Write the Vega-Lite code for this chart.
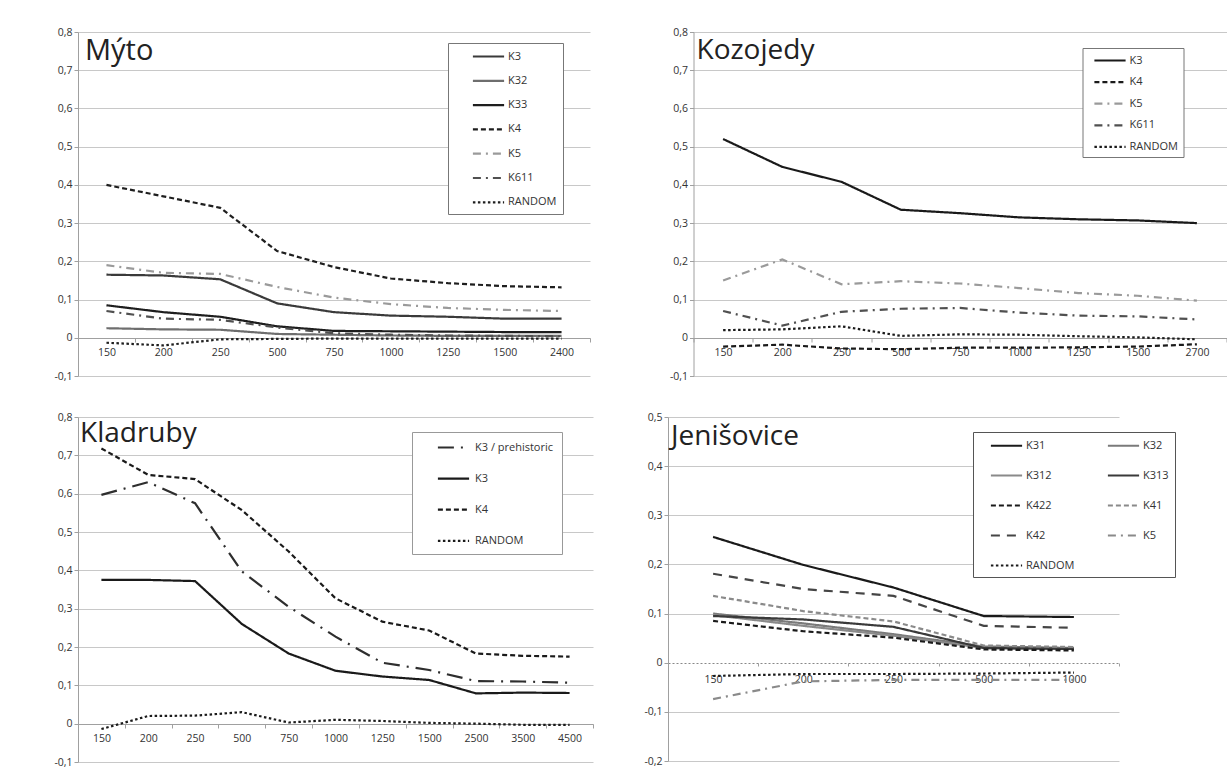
{
  "$schema": "https://vega.github.io/schema/vega-lite/v6.json",
  "background": "white",
  "padding": {"left": 53, "top": 27, "right": 0, "bottom": 0},
  "datasets": {
    "myto": [
      {"s":150,"k":"K3","v":0.165},{"s":200,"k":"K3","v":0.163},{"s":250,"k":"K3","v":0.153},{"s":500,"k":"K3","v":0.09},{"s":750,"k":"K3","v":0.067},{"s":1000,"k":"K3","v":0.058},{"s":1250,"k":"K3","v":0.055},{"s":1500,"k":"K3","v":0.05},{"s":2400,"k":"K3","v":0.05},
      {"s":150,"k":"K32","v":0.025},{"s":200,"k":"K32","v":0.022},{"s":250,"k":"K32","v":0.021},{"s":500,"k":"K32","v":0.01},{"s":750,"k":"K32","v":0.008},{"s":1000,"k":"K32","v":0.006},{"s":1250,"k":"K32","v":0.005},{"s":1500,"k":"K32","v":0.005},{"s":2400,"k":"K32","v":0.005},
      {"s":150,"k":"K33","v":0.085},{"s":200,"k":"K33","v":0.067},{"s":250,"k":"K33","v":0.055},{"s":500,"k":"K33","v":0.03},{"s":750,"k":"K33","v":0.018},{"s":1000,"k":"K33","v":0.017},{"s":1250,"k":"K33","v":0.016},{"s":1500,"k":"K33","v":0.015},{"s":2400,"k":"K33","v":0.015},
      {"s":150,"k":"K4","v":0.4},{"s":200,"k":"K4","v":0.37},{"s":250,"k":"K4","v":0.34},{"s":500,"k":"K4","v":0.227},{"s":750,"k":"K4","v":0.185},{"s":1000,"k":"K4","v":0.155},{"s":1250,"k":"K4","v":0.143},{"s":1500,"k":"K4","v":0.135},{"s":2400,"k":"K4","v":0.132},
      {"s":150,"k":"K5","v":0.19},{"s":200,"k":"K5","v":0.17},{"s":250,"k":"K5","v":0.167},{"s":500,"k":"K5","v":0.133},{"s":750,"k":"K5","v":0.105},{"s":1000,"k":"K5","v":0.088},{"s":1250,"k":"K5","v":0.078},{"s":1500,"k":"K5","v":0.073},{"s":2400,"k":"K5","v":0.07},
      {"s":150,"k":"K611","v":0.07},{"s":200,"k":"K611","v":0.05},{"s":250,"k":"K611","v":0.047},{"s":500,"k":"K611","v":0.027},{"s":750,"k":"K611","v":0.012},{"s":1000,"k":"K611","v":0.008},{"s":1250,"k":"K611","v":0.006},{"s":1500,"k":"K611","v":0.005},{"s":2400,"k":"K611","v":0.004},
      {"s":150,"k":"RANDOM","v":-0.013},{"s":200,"k":"RANDOM","v":-0.02},{"s":250,"k":"RANDOM","v":-0.004},{"s":500,"k":"RANDOM","v":-0.003},{"s":750,"k":"RANDOM","v":-0.002},{"s":1000,"k":"RANDOM","v":-0.002},{"s":1250,"k":"RANDOM","v":-0.002},{"s":1500,"k":"RANDOM","v":-0.002},{"s":2400,"k":"RANDOM","v":-0.002}
    ],
    "kozojedy": [
      {"s":150,"k":"K3","v":0.52},{"s":200,"k":"K3","v":0.447},{"s":250,"k":"K3","v":0.408},{"s":500,"k":"K3","v":0.335},{"s":750,"k":"K3","v":0.326},{"s":1000,"k":"K3","v":0.315},{"s":1250,"k":"K3","v":0.31},{"s":1500,"k":"K3","v":0.307},{"s":2700,"k":"K3","v":0.3},
      {"s":150,"k":"K4","v":-0.023},{"s":200,"k":"K4","v":-0.018},{"s":250,"k":"K4","v":-0.028},{"s":500,"k":"K4","v":-0.03},{"s":750,"k":"K4","v":-0.026},{"s":1000,"k":"K4","v":-0.026},{"s":1250,"k":"K4","v":-0.025},{"s":1500,"k":"K4","v":-0.023},{"s":2700,"k":"K4","v":-0.017},
      {"s":150,"k":"K5","v":0.15},{"s":200,"k":"K5","v":0.205},{"s":250,"k":"K5","v":0.14},{"s":500,"k":"K5","v":0.148},{"s":750,"k":"K5","v":0.142},{"s":1000,"k":"K5","v":0.13},{"s":1250,"k":"K5","v":0.117},{"s":1500,"k":"K5","v":0.11},{"s":2700,"k":"K5","v":0.097},
      {"s":150,"k":"K611","v":0.07},{"s":200,"k":"K611","v":0.032},{"s":250,"k":"K611","v":0.068},{"s":500,"k":"K611","v":0.076},{"s":750,"k":"K611","v":0.078},{"s":1000,"k":"K611","v":0.066},{"s":1250,"k":"K611","v":0.058},{"s":1500,"k":"K611","v":0.056},{"s":2700,"k":"K611","v":0.048},
      {"s":150,"k":"RANDOM","v":0.02},{"s":200,"k":"RANDOM","v":0.022},{"s":250,"k":"RANDOM","v":0.03},{"s":500,"k":"RANDOM","v":0.005},{"s":750,"k":"RANDOM","v":0.009},{"s":1000,"k":"RANDOM","v":0.008},{"s":1250,"k":"RANDOM","v":0.004},{"s":1500,"k":"RANDOM","v":0.001},{"s":2700,"k":"RANDOM","v":-0.004}
    ],
    "kladruby": [
      {"s":150,"k":"K3 / prehistoric","v":0.597},{"s":200,"k":"K3 / prehistoric","v":0.63},{"s":250,"k":"K3 / prehistoric","v":0.575},{"s":500,"k":"K3 / prehistoric","v":0.397},{"s":750,"k":"K3 / prehistoric","v":0.305},{"s":1000,"k":"K3 / prehistoric","v":0.227},{"s":1250,"k":"K3 / prehistoric","v":0.159},{"s":1500,"k":"K3 / prehistoric","v":0.14},{"s":2500,"k":"K3 / prehistoric","v":0.111},{"s":3500,"k":"K3 / prehistoric","v":0.11},{"s":4500,"k":"K3 / prehistoric","v":0.107},
      {"s":150,"k":"K3","v":0.375},{"s":200,"k":"K3","v":0.375},{"s":250,"k":"K3","v":0.372},{"s":500,"k":"K3","v":0.26},{"s":750,"k":"K3","v":0.183},{"s":1000,"k":"K3","v":0.138},{"s":1250,"k":"K3","v":0.123},{"s":1500,"k":"K3","v":0.114},{"s":2500,"k":"K3","v":0.079},{"s":3500,"k":"K3","v":0.081},{"s":4500,"k":"K3","v":0.08},
      {"s":150,"k":"K4","v":0.718},{"s":200,"k":"K4","v":0.649},{"s":250,"k":"K4","v":0.638},{"s":500,"k":"K4","v":0.557},{"s":750,"k":"K4","v":0.449},{"s":1000,"k":"K4","v":0.327},{"s":1250,"k":"K4","v":0.266},{"s":1500,"k":"K4","v":0.243},{"s":2500,"k":"K4","v":0.183},{"s":3500,"k":"K4","v":0.177},{"s":4500,"k":"K4","v":0.175},
      {"s":150,"k":"RANDOM","v":-0.014},{"s":200,"k":"RANDOM","v":0.02},{"s":250,"k":"RANDOM","v":0.021},{"s":500,"k":"RANDOM","v":0.03},{"s":750,"k":"RANDOM","v":0.003},{"s":1000,"k":"RANDOM","v":0.01},{"s":1250,"k":"RANDOM","v":0.007},{"s":1500,"k":"RANDOM","v":0.002},{"s":2500,"k":"RANDOM","v":0.0},{"s":3500,"k":"RANDOM","v":-0.003},{"s":4500,"k":"RANDOM","v":-0.003}
    ],
    "jenisovice": [
      {"s":150,"k":"K31","v":0.256},{"s":200,"k":"K31","v":0.199},{"s":250,"k":"K31","v":0.153},{"s":500,"k":"K31","v":0.095},{"s":1000,"k":"K31","v":0.093},
      {"s":150,"k":"K32","v":0.1},{"s":200,"k":"K32","v":0.08},{"s":250,"k":"K32","v":0.058},{"s":500,"k":"K32","v":0.033},{"s":1000,"k":"K32","v":0.03},
      {"s":150,"k":"K312","v":0.097},{"s":200,"k":"K312","v":0.075},{"s":250,"k":"K312","v":0.055},{"s":500,"k":"K312","v":0.03},{"s":1000,"k":"K312","v":0.028},
      {"s":150,"k":"K313","v":0.095},{"s":200,"k":"K313","v":0.088},{"s":250,"k":"K313","v":0.073},{"s":500,"k":"K313","v":0.03},{"s":1000,"k":"K313","v":0.028},
      {"s":150,"k":"K422","v":0.085},{"s":200,"k":"K422","v":0.064},{"s":250,"k":"K422","v":0.051},{"s":500,"k":"K422","v":0.027},{"s":1000,"k":"K422","v":0.025},
      {"s":150,"k":"K41","v":0.136},{"s":200,"k":"K41","v":0.105},{"s":250,"k":"K41","v":0.084},{"s":500,"k":"K41","v":0.035},{"s":1000,"k":"K41","v":0.032},
      {"s":150,"k":"K42","v":0.181},{"s":200,"k":"K42","v":0.15},{"s":250,"k":"K42","v":0.136},{"s":500,"k":"K42","v":0.075},{"s":1000,"k":"K42","v":0.071},
      {"s":150,"k":"K5","v":-0.074},{"s":200,"k":"K5","v":-0.038},{"s":250,"k":"K5","v":-0.035},{"s":500,"k":"K5","v":-0.035},{"s":1000,"k":"K5","v":-0.035},
      {"s":150,"k":"RANDOM","v":-0.027},{"s":200,"k":"RANDOM","v":-0.023},{"s":250,"k":"RANDOM","v":-0.023},{"s":500,"k":"RANDOM","v":-0.022},{"s":1000,"k":"RANDOM","v":-0.02}
    ]
  },
  "spacing": 30,
  "resolve": {"scale": {"color": "independent", "strokeDash": "independent", "x": "independent", "y": "independent"}, "legend": {"color": "independent", "strokeDash": "independent"}},
  "vconcat": [
    {
      "spacing": 77.5,
      "resolve": {"scale": {"color": "independent", "strokeDash": "independent", "x": "independent", "y": "independent"}, "legend": {"color": "independent", "strokeDash": "independent"}},
      "hconcat": [
        {
          "width": 512, "height": 344,
          "layer": [
            {
              "data": {"name": "myto"},
              "mark": {"type": "line", "strokeWidth": 2.2},
              "encoding": {
                "x": {"field": "s", "type": "ordinal", "bandPosition": 0.5, "scale": {"type": "band", "paddingInner": 0, "paddingOuter": 0},
                      "axis": {"title": null, "labelAngle": 0, "tickBand": "extent", "offset": -38, "tickSize": 4, "labelPadding": 5, "grid": false}},
                "y": {"field": "v", "type": "quantitative", "scale": {"domain": [-0.1, 0.8], "nice": false, "zero": false},
                      "axis": {"title": null, "values": [-0.1,0,0.1,0.2,0.3,0.4,0.5,0.6,0.7,0.8], "tickCount": 20, "labelExpr": "replace(replace(format(datum.value, '.1~f'), '.', ','), '\u2212', '-')", "tickSize": 4, "grid": true, "labelOverlap": false, "labelFlush": false}},
                "color": {"field": "k", "type": "nominal", "scale": {"domain": ["K3","K32","K33","K4","K5","K611","RANDOM"], "range": ["#3a3a3a","#6e6e6e","#1e1e1e","#1e1e1e","#9a9a9a","#505050","#1e1e1e"]},
                          "legend": {"title": null, "orient": "none", "legendX": 370, "legendY": 11, "symbolType": "M-2.6,0L2.6,0", "symbolSize": 144, "symbolStrokeWidth": 2.2, "symbolOffset": 27, "labelOffset": 12, "labelFontSize": 11, "rowPadding": 11.3, "padding": 6, "strokeColor": "#777", "fillColor": "white"}},
                "strokeDash": {"field": "k", "type": "nominal", "scale": {"domain": ["K3","K32","K33","K4","K5","K611","RANDOM"], "range": [[1,0],[1,0],[1,0],[5,3],[8,5,2,5],[8,5,2,5],[2.5,2.5]]},
                          "legend": {"title": null, "orient": "none", "legendX": 370, "legendY": 11, "symbolType": "M-2.6,0L2.6,0", "symbolSize": 144, "symbolStrokeWidth": 2.2, "symbolOffset": 27, "labelOffset": 12, "labelFontSize": 11, "rowPadding": 11.3, "padding": 6, "strokeColor": "#777", "fillColor": "white"}}
              }
            },
            {
              "data": {"values": [{"t": "Mýto"}]},
              "mark": {"type": "text", "align": "left", "baseline": "top", "fontSize": 29, "dx": 7, "dy": 5, "color": "#222"},
              "encoding": {
                "x": {"datum": 150, "type": "ordinal", "bandPosition": 0},
                "y": {"datum": 0.8, "type": "quantitative"},
                "text": {"field": "t"}
              }
            }
          ]
        },
        {
          "width": 533, "height": 344,
          "layer": [
            {
              "data": {"name": "kozojedy"},
              "mark": {"type": "line", "strokeWidth": 2.2},
              "encoding": {
                "x": {"field": "s", "type": "ordinal", "bandPosition": 0.5, "scale": {"type": "band", "paddingInner": 0, "paddingOuter": 0},
                      "axis": {"title": null, "labelAngle": 0, "tickBand": "extent", "offset": -38, "tickSize": 4, "labelPadding": 5, "grid": false}},
                "y": {"field": "v", "type": "quantitative", "scale": {"domain": [-0.1, 0.8], "nice": false, "zero": false},
                      "axis": {"title": null, "values": [-0.1,0,0.1,0.2,0.3,0.4,0.5,0.6,0.7,0.8], "tickCount": 20, "labelExpr": "replace(replace(format(datum.value, '.1~f'), '.', ','), '\u2212', '-')", "tickSize": 4, "grid": true, "labelOverlap": false, "labelFlush": false}},
                "color": {"field": "k", "type": "nominal", "scale": {"domain": ["K3","K4","K5","K611","RANDOM"], "range": ["#1a1a1a","#1a1a1a","#9a9a9a","#505050","#1a1a1a"]},
                          "legend": {"title": null, "orient": "none", "legendX": 389, "legendY": 16, "symbolType": "M-2.6,0L2.6,0", "symbolSize": 144, "symbolStrokeWidth": 2.2, "symbolOffset": 15, "labelOffset": 12, "labelFontSize": 11, "rowPadding": 8.6, "padding": 5, "strokeColor": "#777", "fillColor": "white"}},
                "strokeDash": {"field": "k", "type": "nominal", "scale": {"domain": ["K3","K4","K5","K611","RANDOM"], "range": [[1,0],[5,3],[8,5,2,5],[8,5,2,5],[2.5,2.5]]},
                          "legend": {"title": null, "orient": "none", "legendX": 389, "legendY": 16, "symbolType": "M-2.6,0L2.6,0", "symbolSize": 144, "symbolStrokeWidth": 2.2, "symbolOffset": 15, "labelOffset": 12, "labelFontSize": 11, "rowPadding": 8.6, "padding": 5, "strokeColor": "#777", "fillColor": "white"}}
              }
            },
            {
              "data": {"values": [{"t": "Kozojedy"}]},
              "mark": {"type": "text", "align": "left", "baseline": "top", "fontSize": 28, "dx": 3, "dy": 5, "color": "#222"},
              "encoding": {
                "x": {"datum": 150, "type": "ordinal", "bandPosition": 0},
                "y": {"datum": 0.8, "type": "quantitative"},
                "text": {"field": "t"}
              }
            }
          ]
        }
      ]
    },
    {
      "spacing": 49,
      "resolve": {"scale": {"color": "independent", "strokeDash": "independent", "x": "independent", "y": "independent"}, "legend": {"color": "independent", "strokeDash": "independent"}},
      "hconcat": [
        {
          "width": 515, "height": 345,
          "layer": [
            {
              "data": {"name": "kladruby"},
              "mark": {"type": "line", "strokeWidth": 2.2},
              "encoding": {
                "x": {"field": "s", "type": "ordinal", "bandPosition": 0.5, "scale": {"type": "band", "paddingInner": 0, "paddingOuter": 0},
                      "axis": {"title": null, "labelAngle": 0, "tickBand": "extent", "offset": -38, "tickSize": 4, "labelPadding": 5, "grid": false}},
                "y": {"field": "v", "type": "quantitative", "scale": {"domain": [-0.1, 0.8], "nice": false, "zero": false},
                      "axis": {"title": null, "values": [-0.1,0,0.1,0.2,0.3,0.4,0.5,0.6,0.7,0.8], "tickCount": 20, "labelExpr": "replace(replace(format(datum.value, '.1~f'), '.', ','), '\u2212', '-')", "tickSize": 4, "grid": true, "labelOverlap": false, "labelFlush": false}},
                "color": {"field": "k", "type": "nominal", "scale": {"domain": ["K3 / prehistoric","K3","K4","RANDOM"], "range": ["#2e2e2e","#1a1a1a","#1a1a1a","#1a1a1a"]},
                          "legend": {"title": null, "orient": "none", "legendX": 334, "legendY": 15, "symbolType": "M-2.6,0L2.6,0", "symbolSize": 144, "symbolStrokeWidth": 2.2, "symbolOffset": 26, "labelOffset": 14, "labelFontSize": 11, "rowPadding": 18.1, "padding": 8, "strokeColor": "#999", "fillColor": "white"}},
                "strokeDash": {"field": "k", "type": "nominal", "scale": {"domain": ["K3 / prehistoric","K3","K4","RANDOM"], "range": [[16,7,2,7],[1,0],[5,3],[2.5,2.5]]},
                          "legend": {"title": null, "orient": "none", "legendX": 334, "legendY": 15, "symbolType": "M-2.6,0L2.6,0", "symbolSize": 144, "symbolStrokeWidth": 2.2, "symbolOffset": 26, "labelOffset": 14, "labelFontSize": 11, "rowPadding": 18.1, "padding": 8, "strokeColor": "#999", "fillColor": "white"}}
              }
            },
            {
              "data": {"values": [{"t": "Kladruby"}]},
              "mark": {"type": "text", "align": "left", "baseline": "top", "fontSize": 28, "dx": 2, "dy": 3, "color": "#222"},
              "encoding": {
                "x": {"datum": 150, "type": "ordinal", "bandPosition": 0},
                "y": {"datum": 0.8, "type": "quantitative"},
                "text": {"field": "t"}
              }
            }
          ]
        },
        {
          "width": 451, "height": 344,
          "layer": [
            {
              "data": {"name": "jenisovice"},
              "mark": {"type": "line", "strokeWidth": 2.2},
              "encoding": {
                "x": {"field": "s", "type": "ordinal", "bandPosition": 0.5, "scale": {"type": "band", "paddingInner": 0, "paddingOuter": 0},
                      "axis": {"title": null, "labelAngle": 0, "tickBand": "extent", "offset": -98, "tickSize": 3, "labelPadding": 8, "grid": false, "domainDash": [2,2], "domainColor": "#888"}},
                "y": {"field": "v", "type": "quantitative", "scale": {"domain": [-0.2, 0.5], "nice": false, "zero": false},
                      "axis": {"title": null, "values": [-0.2,-0.1,0,0.1,0.2,0.3,0.4,0.5], "tickCount": 20, "labelExpr": "replace(replace(format(datum.value, '.1~f'), '.', ','), '\u2212', '-')", "tickSize": 4, "grid": true, "labelOverlap": false, "labelFlush": false,
                               "gridColor": {"condition": {"test": "datum.value === 0", "value": "transparent"}, "value": "#c8c8c8"}}},
                "color": {"field": "k", "type": "nominal", "scale": {"domain": ["K31","K312","K422","K42","RANDOM","K32","K313","K41","K5"], "range": ["#1a1a1a","#8a8a8a","#1a1a1a","#454545","#1a1a1a","#7a7a7a","#3a3a3a","#8a8a8a","#8a8a8a"]},
                          "legend": {"title": null, "orient": "none", "legendX": 305, "legendY": 15, "columns": 2, "columnPadding": 21, "gridAlign": "each", "symbolType": "M-2.6,0L2.6,0", "symbolSize": 144, "symbolStrokeWidth": 2.2, "symbolOffset": 20, "labelOffset": 12, "labelFontSize": 11, "rowPadding": 17, "padding": 6, "strokeColor": "#555", "fillColor": "white"}},
                "strokeDash": {"field": "k", "type": "nominal", "scale": {"domain": ["K31","K312","K422","K42","RANDOM","K32","K313","K41","K5"], "range": [[1,0],[1,0],[5,3],[9,7],[2.5,2.5],[1,0],[1,0],[5,3],[8,5,2,5]]},
                          "legend": {"title": null, "orient": "none", "legendX": 305, "legendY": 15, "columns": 2, "columnPadding": 21, "gridAlign": "each", "symbolType": "M-2.6,0L2.6,0", "symbolSize": 144, "symbolStrokeWidth": 2.2, "symbolOffset": 20, "labelOffset": 12, "labelFontSize": 11, "rowPadding": 17, "padding": 6, "strokeColor": "#555", "fillColor": "white"}}
              }
            },
            {
              "data": {"values": [{"t": "Jenišovice"}]},
              "mark": {"type": "text", "align": "left", "baseline": "top", "fontSize": 28, "dx": 3, "dy": 6, "color": "#222"},
              "encoding": {
                "x": {"datum": 150, "type": "ordinal", "bandPosition": 0},
                "y": {"datum": 0.5, "type": "quantitative"},
                "text": {"field": "t"}
              }
            }
          ]
        }
      ]
    }
  ],
  "config": {
    "font": "Open Sans",
    "view": {"stroke": null},
    "axis": {"labelFont": "Open Sans", "labelFontSize": 10.5, "labelColor": "#333", "domainColor": "#a0a0a0", "tickColor": "#a0a0a0", "gridColor": "#c8c8c8", "gridWidth": 1},
    "legend": {"labelFont": "Open Sans", "labelColor": "#333"},
    "text": {"font": "Open Sans"}
  }
}
